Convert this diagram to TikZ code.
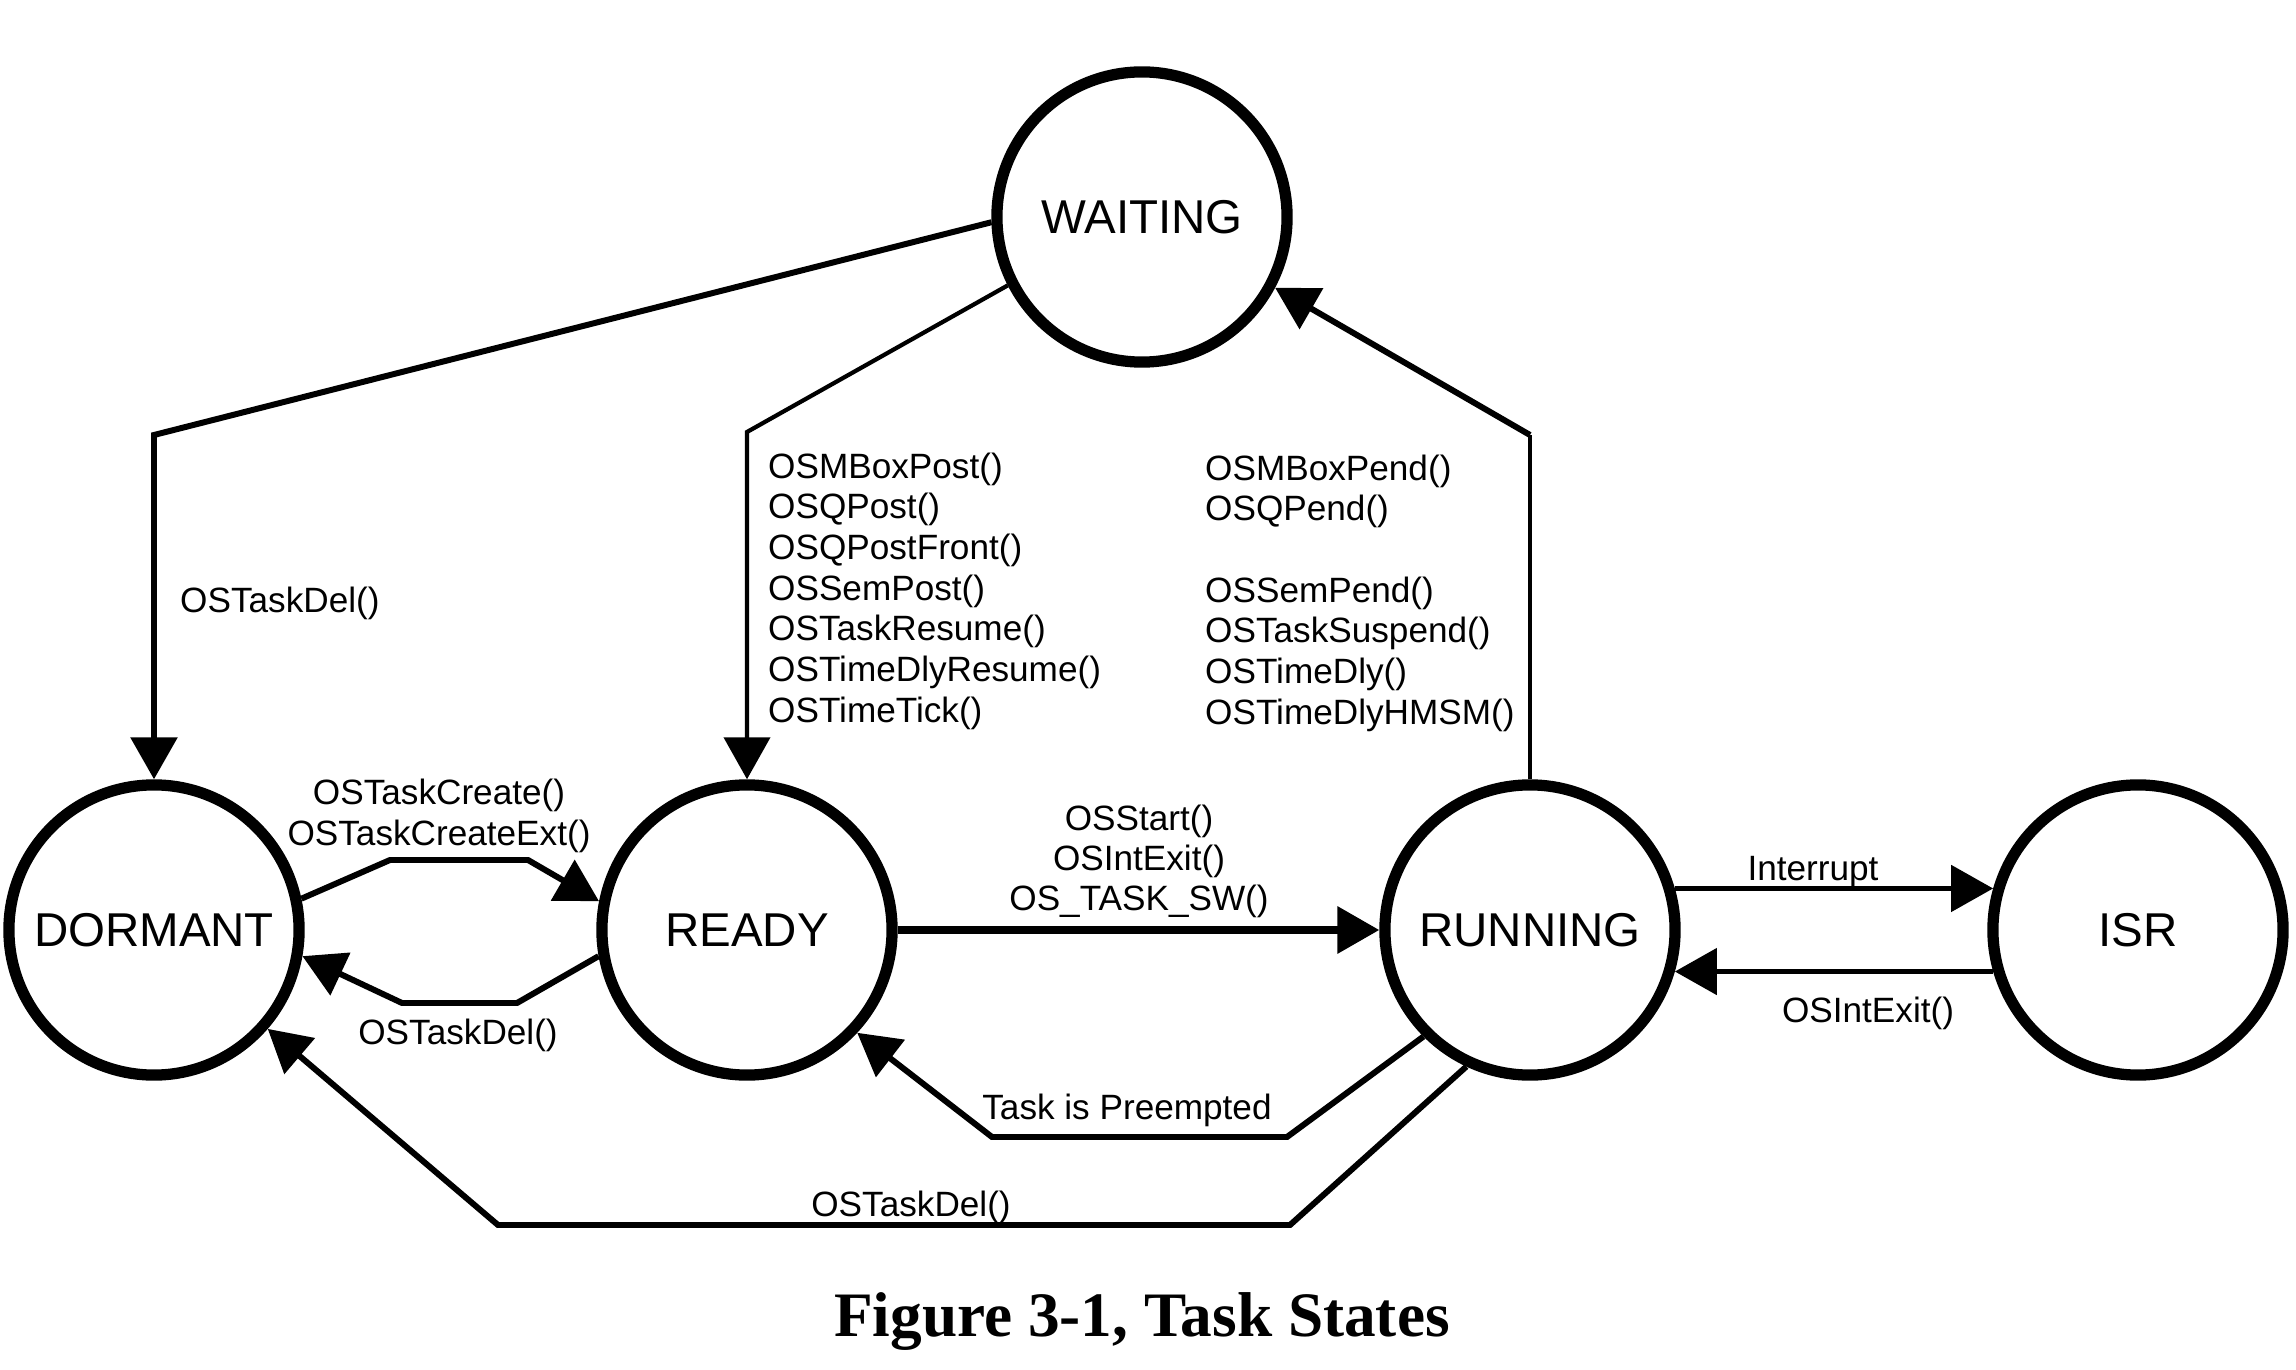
\documentclass[tikz,border=0pt]{standalone}
\usepackage{fontspec}
\setmainfont{Liberation Sans}
\newfontfamily\capfont{Liberation Serif}
\usetikzlibrary{arrows.meta}
\begin{document}
\begin{tikzpicture}[x=0.01cm,y=-0.01cm,
    state/.style={circle,draw,line width=3.2pt,minimum size=2.9cm,inner sep=0pt,font=\fontsize{13.5}{16}\selectfont},
    lbl/.style={inner sep=1pt,font=\fontsize{10}{12}\selectfont},
    arrow/.style={-{Triangle[length=0.42cm,width=0.46cm]},line width=1.7pt,line join=miter}]
    \useasboundingbox (0,0) rectangle (2296,1370);
    % cac trang thai
    \node[state] (wait) at (1142,217) {WAITING};
    \node[state] (dorm) at (154,930) {DORMANT};
    \node[state] (ready) at (747,930) {READY};
    \node[state] (run) at (1530,930) {RUNNING};
    \node[state] (isr) at (2138,930) {ISR};
    % diem gap
    \coordinate (kw1) at (154,435);
    \coordinate (kw2) at (747,432);
    \coordinate (kw3) at (1530,435);
    \draw[arrow] (wait.182) -- (kw1) -- (dorm.north);
    \draw[arrow,line width=1.2pt] (wait.207) -- (kw2) -- (ready.north);
    \draw[line width=1.2pt] (run.north) -- (kw3);
    \draw[arrow] (kw3) -- (wait.332);
    \draw[arrow] (dorm.12) -- (390,860) -- (528,860) -- (ready.169);
    \draw[arrow] (ready.190) -- (517,1003) -- (402,1003) -- (dorm.350);
    \draw[arrow,line width=2pt] (ready.east) -- (run.west);
    \draw[arrow,line width=1.4pt] (run.16) -- (isr.164);
    \draw[arrow,line width=1.4pt] (isr.196) -- (run.-16);
    \draw[arrow] (run.225) -- (1287,1137) -- (992,1137) -- (ready.-43);
    \draw[arrow] (run.245) -- (1290,1225) -- (498,1225) -- (dorm.-41);
    % nhan
    \node[lbl,anchor=west] (del1) at (176,603) {OSTaskDel()};
    \node[lbl] (cre1) at (439,795) {OSTaskCreate()};
    \node[lbl] (cre2) at (439,836) {OSTaskCreateExt()};
    \node[lbl] (del2) at (458,1035) {OSTaskDel()};
    \foreach \i/\mtxt in {0/OSStart(),1/OSIntExit(),2/OS\_TASK\_SW()}
        \path node[lbl] (sw\i) at (1139,{821+40*\i}) {\mtxt};
    \foreach \i/\mtxt in {0/OSMBoxPost(),1/OSQPost(),2/OSQPostFront(),3/OSSemPost(),4/OSTaskResume(),5/OSTimeDlyResume(),6/OSTimeTick()}
        \path node[lbl,anchor=west] (post\i) at (764,{469+40.7*\i}) {\mtxt};
    \foreach \i/\mtxt in {0/OSMBoxPend(),1/OSQPend(),3/OSSemPend(),4/OSTaskSuspend(),5/OSTimeDly(),6/OSTimeDlyHMSM()}
        \path node[lbl,anchor=west] (pend\i) at (1201,{471+40.7*\i}) {\mtxt};
    \node[lbl] (intr) at (1813,872) {Interrupt};
    \node[lbl] (iexit) at (1868,1013) {OSIntExit()};
    \node[lbl] (preem) at (1127,1110) {Task is Preempted};
    \node[lbl] (del3) at (911,1207) {OSTaskDel()};
    \node[font=\capfont\bfseries\fontsize{18}{22}\selectfont] (cap) at (1142,1322) {Figure 3-1, Task States};
\end{tikzpicture}
\end{document}
